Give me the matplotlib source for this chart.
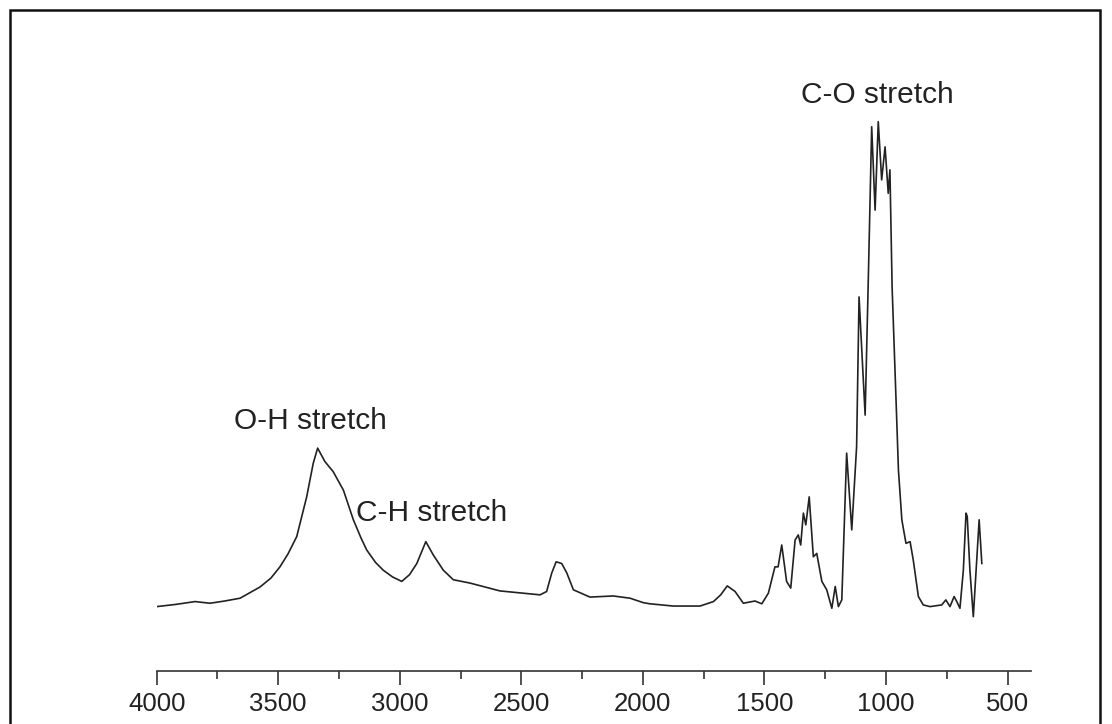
import matplotlib.pyplot as plt
from matplotlib.patches import Rectangle
from matplotlib.ticker import MultipleLocator

# espectro IR (numero de onda en cm-1, absorbancia arbitraria)
numero_onda = [4000, 3920, 3842, 3781, 3720, 3657, 3575, 3530, 3493, 3460,
               3424, 3383, 3356, 3338, 3308, 3274, 3232, 3191, 3160, 3136,
               3100, 3068, 3030, 2992, 2960, 2930, 2893, 2862, 2821, 2780,
               2711, 2588, 2423, 2396, 2375, 2357, 2334, 2313, 2286, 2218,
               2122, 2053, 1998, 1971, 1875, 1765, 1710, 1680, 1653, 1621,
               1587, 1539, 1511, 1484, 1457, 1444, 1429, 1409, 1392, 1374,
               1361, 1351, 1340, 1330, 1316, 1299, 1285, 1264, 1244, 1223,
               1209, 1196, 1182, 1162, 1141, 1121, 1111, 1086, 1073, 1059,
               1045, 1032, 1018, 1004, 991, 984, 975, 956, 949, 935,
               918, 901, 888, 867, 847, 819, 771, 754, 737, 720,
               709, 696, 682, 671, 666, 655, 641, 627, 617, 606]
absorbancia = [0.115, 0.119, 0.124, 0.121, 0.125, 0.130, 0.150, 0.166, 0.186, 0.209,
               0.240, 0.311, 0.371, 0.398, 0.374, 0.356, 0.323, 0.270, 0.238, 0.216,
               0.194, 0.180, 0.168, 0.160, 0.172, 0.192, 0.231, 0.207, 0.180, 0.163,
               0.157, 0.143, 0.136, 0.142, 0.175, 0.195, 0.192, 0.175, 0.145, 0.132,
               0.134, 0.130, 0.122, 0.120, 0.116, 0.116, 0.124, 0.136, 0.152, 0.142,
               0.121, 0.125, 0.120, 0.139, 0.186, 0.186, 0.225, 0.160, 0.148, 0.234,
               0.243, 0.225, 0.282, 0.261, 0.311, 0.204, 0.210, 0.160, 0.145, 0.112,
               0.151, 0.115, 0.127, 0.389, 0.252, 0.401, 0.668, 0.457, 0.698, 0.972,
               0.823, 0.981, 0.877, 0.936, 0.853, 0.895, 0.685, 0.448, 0.359, 0.270,
               0.228, 0.231, 0.198, 0.133, 0.118, 0.115, 0.118, 0.127, 0.115, 0.133,
               0.124, 0.112, 0.180, 0.282, 0.276, 0.180, 0.097, 0.198, 0.270, 0.192]

etiquetas = ['O-H stretch', 'C-H stretch', 'C-O stretch']
etiquetas_x = [3369, 2870, 1034]
etiquetas_y = [0.447, 0.282, 1.028]

plt.rcParams['font.family'] = ['Liberation Sans', 'DejaVu Sans']

fig = plt.figure(figsize=(11.12, 7.24), dpi=100)
ax = fig.add_axes([0.1409, 0.0732, 0.7862, 0.8508])

ax.plot(numero_onda, absorbancia, color='#222222', lw=1.2)

for texto, x, y in zip(etiquetas, etiquetas_x, etiquetas_y):
    ax.text(x, y, texto, ha='center', va='center', fontsize=21.5, color='#222222')

ax.set_xlim(4000, 404)
ax.set_ylim(0, 1.1)

for lado in ['top', 'right', 'left']:
    ax.spines[lado].set_visible(False)
ax.spines['bottom'].set_color('#333333')
ax.spines['bottom'].set_linewidth(1.2)

ax.set_xticks([4000, 3500, 3000, 2500, 2000, 1500, 1000, 500])
ax.xaxis.set_minor_locator(MultipleLocator(250))
ax.tick_params(axis='x', which='major', direction='out', length=10, width=1.2,
               color='#333333', labelsize=18.5, labelcolor='#222222', pad=5)
ax.tick_params(axis='x', which='minor', direction='out', length=5.5, width=1.2,
               color='#333333')
ax.set_yticks([])

# marco alrededor de la figura
marco = Rectangle((10 / 1112, -0.05), 1090 / 1112, 1.05 - 10 / 724,
                  transform=fig.transFigure, fill=False, lw=1.8,
                  edgecolor='#111111', clip_on=False)
fig.patches.append(marco)

fig.savefig('out.png', dpi=100)
